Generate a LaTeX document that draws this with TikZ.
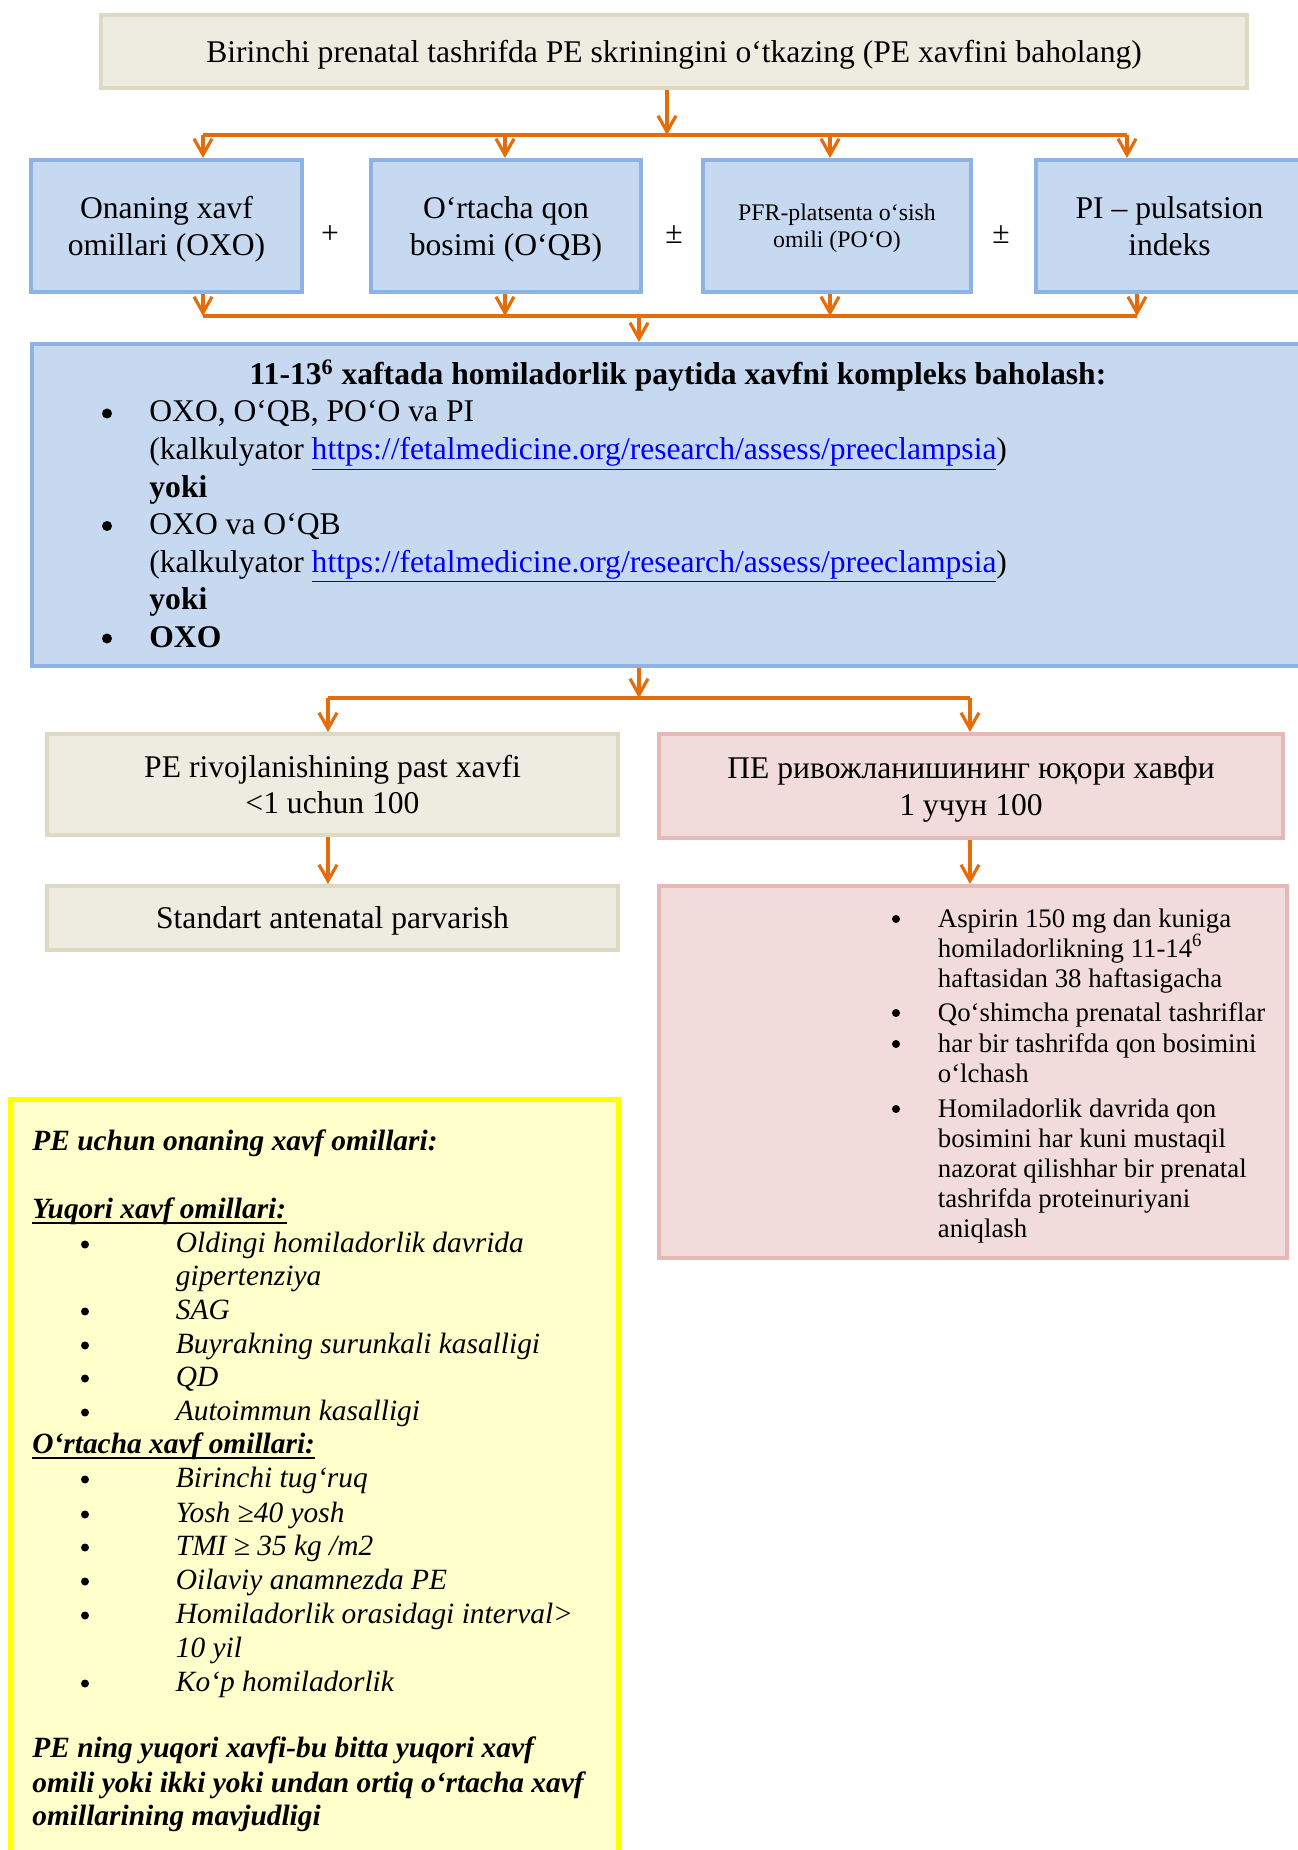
\documentclass[tikz,border=0pt]{standalone}
\usepackage{fontspec}
\setmainfont{Liberation Serif}
\usetikzlibrary{arrows.meta}
\definecolor{orangeln}{HTML}{E46C0A}
\definecolor{beigefill}{HTML}{EEECE1}
\definecolor{beigeln}{HTML}{DDD9C3}
\definecolor{bluefill}{HTML}{C6D9F1}
\definecolor{blueln}{HTML}{8DB3E2}
\definecolor{pinkfill}{HTML}{F2DCDB}
\definecolor{pinkln}{HTML}{E6B9B8}
\definecolor{notefill}{HTML}{FFFFCC}
\definecolor{noteln}{HTML}{FFFF00}
\definecolor{linkblue}{HTML}{0000FF}

\begin{document}
\begin{tikzpicture}[x=0.5pt,y=-0.5pt,
  beigebox/.style={draw=beigeln,fill=beigefill,line width=2pt,align=center,inner sep=0pt},
  bluebox/.style={draw=blueln,fill=bluefill,line width=2pt,align=center,inner sep=0pt,text depth=0pt},
  pinkbox/.style={draw=pinkln,fill=pinkfill,line width=2pt,align=center,inner sep=0pt,text depth=0pt},
  notebox/.style={draw=noteln,fill=notefill,line width=2.5pt,inner sep=0pt},
  txt/.style={anchor=base west,inner sep=0pt},
  dot/.style={circle,fill=black,inner sep=0pt,minimum size=#1},
  link/.style={draw=orangeln,line width=1.6pt},
  arr/.style={link,-{Straight Barb[length=8pt,width=9pt]}}]
   \def\bigsz{\fontsize{15.8}{18.3}\selectfont}
   \def\smallsz{\fontsize{11.9}{13.5}\selectfont}
   \def\caresz{\fontsize{13.4}{15.2}\selectfont}
   \def\notesz{\fontsize{14.7}{16.9}\selectfont\itshape}
   \def\calc{\textcolor{linkblue}{\underline{https://fetalmedicine.org/research/assess/preeclampsia}}}
   \useasboundingbox (0,0) rectangle (1297,1850);

   \node[beigebox,text depth=0pt,minimum width=573pt,minimum height=36.5pt,font=\bigsz] (top) at (674,51.5)
      {Birinchi prenatal tashrifda PE skriningini o‘tkazing (PE xavfini baholang)};

   \node[bluebox,minimum width=135.5pt,minimum height=66pt,font=\bigsz] (oxo) at (166.5,226) {Onaning xavf\\omillari (OXO)};
   \node[bluebox,minimum width=135pt,minimum height=66pt,font=\bigsz] (oqb) at (506,226) {O‘rtacha qon\\bosimi (O‘QB)};
   \node[bluebox,minimum width=134pt,minimum height=66pt,font=\smallsz] (poo) at (837,226) {PFR-platsenta o‘sish\\omili (PO‘O)};
   \node[bluebox,minimum width=133.5pt,minimum height=66pt,font=\bigsz] (pi) at (1169.5,226) {PI – pulsatsion\\indeks};
   \node[font=\bigsz,inner sep=0pt] (plus) at (330,234.5) {+};
   \node[font=\bigsz,inner sep=0pt] (pma) at (674,234.5) {±};
   \node[font=\bigsz,inner sep=0pt] (pmb) at (1001,234.5) {±};

   \coordinate (s1) at (667,135);
   \coordinate (u1) at (203,135);
   \coordinate (u2) at (505,135);
   \coordinate (u3) at (830,135);
   \coordinate (u4) at (1127,135);
   \draw[arr] (top.south -| s1) -- (s1);
   \draw[link] (u1) -- (u4);
   \draw[arr] (u1) -- (u1 |- oxo.north);
   \draw[arr] (u2) -- (u2 |- oqb.north);
   \draw[arr] (u3) -- (u3 |- poo.north);
   \draw[arr] (u4) -- (u4 |- pi.north);

   \node[bluebox,minimum width=648pt,minimum height=161pt] (risk) at (680,505) {};
   \node[anchor=base,inner sep=0pt,font=\bigsz] (riskt) at (678,384.5)
      {\textbf{11-13\textsuperscript{6} xaftada homiladorlik paytida xavfni kompleks baholash:}};
   \foreach \y/\t [count=\i] in {422/{OXO, O‘QB, PO‘O va PI}, 459.5/{(kalkulyator \calc)},
       497/{\textbf{yoki}}, 534.5/{OXO va O‘QB}, 572/{(kalkulyator \calc)},
       609.5/{\textbf{yoki}}, 647/{\textbf{OXO}}}
      \node[txt,font=\bigsz] (rl\i) at (149,\y) {\t};
   \foreach \y [count=\i] in {413.5,526,638.5}
      \node[dot=5pt] (rd\i) at (107,\y) {};

   \coordinate (s2) at (639,316);
   \coordinate (v1) at (203,316);
   \coordinate (v2) at (505,316);
   \coordinate (v3) at (830,316);
   \coordinate (v4) at (1137,316);
   \draw[arr] (v1 |- oxo.south) -- (v1);
   \draw[arr] (v2 |- oqb.south) -- (v2);
   \draw[arr] (v3 |- poo.south) -- (v3);
   \draw[arr] (v4 |- pi.south) -- (v4);
   \draw[link] (v1) -- (v4);
   \draw[arr] (s2) -- (s2 |- risk.north);

   \node[beigebox,minimum width=285.5pt,minimum height=50.5pt,font=\bigsz] (low) at (332.5,784.5)
      {PE rivojlanishining past xavfi\\<1 uchun 100};
   \node[pinkbox,minimum width=312pt,minimum height=52pt,font=\bigsz] (high) at (971,786)
      {ПЕ ривожланишининг юқори хавфи\\1 учун 100};
   \node[beigebox,text depth=0pt,minimum width=285.5pt,minimum height=32pt,font=\bigsz] (std) at (332.5,918)
      {Standart antenatal parvarish};
   \node[pinkbox,minimum width=314pt,minimum height=186pt] (care) at (973,1072) {};

   \coordinate (s3) at (639,698);
   \coordinate (w1) at (328,698);
   \coordinate (w2) at (970,698);
   \draw[arr] (s3 |- risk.south) -- (s3);
   \draw[link] (w1) -- (w2);
   \draw[arr] (w1) -- (w1 |- low.north);
   \draw[arr] (w2) -- (w2 |- high.north);
   \draw[arr] (low.south -| w1) -- (w1 |- std.north);
   \draw[arr] (high.south -| w2) -- (w2 |- care.north);

   \foreach \y/\t [count=\i] in {927/{Aspirin 150 mg dan kuniga}, 957/{homiladorlikning 11-14\textsuperscript{6}},
       987/{haftasidan 38 haftasigacha}, 1021/{Qo‘shimcha prenatal tashriflar},
       1052/{har bir tashrifda qon bosimini}, 1082/{o‘lchash}, 1117/{Homiladorlik davrida qon},
       1147/{bosimini har kuni mustaqil}, 1177/{nazorat qilishhar bir prenatal},
       1207/{tashrifda proteinuriyani}, 1237/{aniqlash}}
      \node[txt,font=\caresz] (cl\i) at (937.5,\y) {\t};
   \foreach \y [count=\i] in {919,1013,1044,1109}
      \node[dot=4pt] (cd\i) at (896,\y) {};

   \node[notebox,minimum width=304pt,minimum height=400pt] (note) at (314.5,1499.5) {};
   \node[txt,font=\notesz] (nt) at (32,1150) {\textbf{PE uchun onaning xavf omillari:}};
   \node[txt,font=\notesz] (nh1) at (32,1218) {\textbf{Yuqori xavf omillari:}};
   \node[txt,font=\notesz] (nh2) at (32,1453) {\textbf{O‘rtacha xavf omillari:}};
   \draw[line width=1pt] ([yshift=-2.5pt]nh1.base west) -- ([yshift=-2.5pt]nh1.base east);
   \draw[line width=1pt] ([yshift=-2.5pt]nh2.base west) -- ([yshift=-2.5pt]nh2.base east);
   \foreach \y/\t [count=\i] in {1252/{Oldingi homiladorlik davrida}, 1285/{gipertenziya}, 1319/{SAG},
       1353/{Buyrakning surunkali kasalligi}, 1386/{QD}, 1420/{Autoimmun kasalligi},
       1487/{Birinchi tug‘ruq}, 1522/{Yosh ≥40 yosh}, 1555/{TMI ≥ 35 kg /m2},
       1589/{Oilaviy anamnezda PE}, 1623/{Homiladorlik orasidagi interval>}, 1657/{10 yil},
       1691/{Ko‘p homiladorlik}}
      \node[txt,font=\notesz] (nl\i) at (175.5,\y) {\t};
   \foreach \y [count=\i] in {1252,1319,1353,1386,1420,1487,1522,1555,1589,1623,1691}
      \node[dot=4pt] (nd\i) at (85,\y-7.5) {};
   \foreach \y/\t [count=\i] in {1757/{PE ning yuqori xavfi-bu bitta yuqori xavf},
       1792/{omili yoki ikki yoki undan ortiq o‘rtacha xavf}, 1825/{omillarining mavjudligi}}
      \node[txt,font=\notesz] (ns\i) at (32,\y) {\textbf{\t}};
  \end{tikzpicture}
\end{document}
